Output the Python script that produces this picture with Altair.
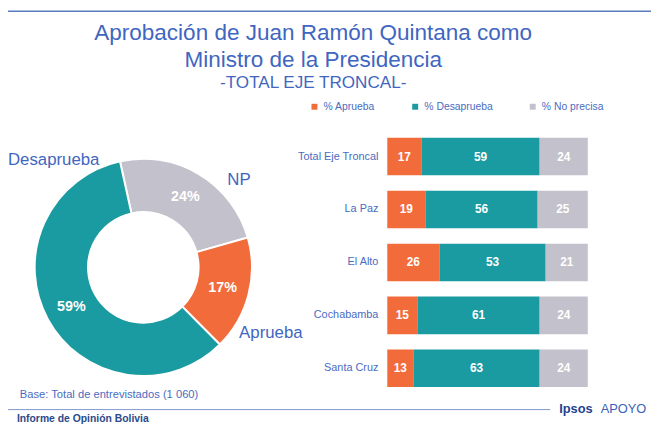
import altair as alt
import pandas as pd

# ---------------- data ----------------
series = ["% Aprueba", "% Desaprueba", "% No precisa"]
colors = ["#f26b3a", "#1a9ba1", "#c3c1cb"]

regions = ["Total Eje Troncal", "La Paz", "El Alto", "Cochabamba", "Santa Cruz"]
aprueba = [17, 19, 26, 15, 13]
desaprueba = [59, 56, 53, 61, 63]
noprecisa = [24, 25, 21, 24, 24]

pie_series = ["% No precisa", "% Aprueba", "% Desaprueba"]
pie_values = [24, 17, 59]
pie_names = ["NP", "Aprueba", "Desaprueba"]

title_lines = ["Aprobación de Juan Ramón Quintana como", "Ministro de la Presidencia", "-TOTAL EJE TRONCAL-"]
base_note = "Base: Total de entrevistados (1 060)"
footer_left = "Informe de Opinión Bolivia"

FONT = "Liberation Sans"
BLUE = "#3f66c0"
LBLUE = "#4a6cc0"

# ---------------- tables ----------------
rows = []
for i, r in enumerate(regions):
    for k, (s, vals) in enumerate(zip(series, [aprueba, desaprueba, noprecisa])):
        rows.append({"region": r, "serie": s, "val": vals[i], "ord": k})
bars_df = pd.DataFrame(rows)
pie_df = pd.DataFrame({"serie": pie_series, "val": pie_values, "ord": [0, 1, 2],
                       "lbl": [f"{v}%" for v in pie_values]})
reg_df = pd.DataFrame({"region": regions})
one = alt.Data(values=[{}])

color = alt.Color("serie:N", scale=alt.Scale(domain=series, range=colors),
                  legend=alt.Legend(title=None, orient="none", legendX=305, legendY=92,
                                    direction="horizontal", symbolType="square",
                                    symbolSize=36, symbolStrokeWidth=0, labelOffset=4,
                                    columnPadding=35, labelFont=FONT, labelFontSize=10.5,
                                    labelColor=LBLUE, padding=0))

xs = alt.Scale(domain=[0, 100], range=[384, 587], nice=False, zero=False)
ys = alt.Scale(domain=regions, range=[121, 389], paddingInner=0.29, paddingOuter=0.145)

base_bar = alt.Chart(bars_df).transform_window(
    cum="sum(val)", sort=[{"field": "ord"}], groupby=["region"], frame=[None, 0]
).transform_calculate(
    start="datum.cum - datum.val", mid="datum.cum - datum.val / 2"
)

bars = base_bar.mark_bar().encode(
    x=alt.X("start:Q", scale=xs, axis=None),
    x2="cum:Q",
    y=alt.Y("region:N", scale=ys, axis=None),
    color=color,
)
bar_text = base_bar.mark_text(font=FONT, fontSize=12, fontWeight="bold", color="white").encode(
    x=alt.X("mid:Q", scale=xs, axis=None),
    y=alt.Y("region:N", scale=ys, axis=None),
    text="val:Q",
)
reg_text = alt.Chart(reg_df).mark_text(font=FONT, fontSize=11, color=LBLUE, align="right").encode(
    x=alt.value(375),
    y=alt.Y("region:N", scale=ys, axis=None),
    text="region:N",
)

ts = alt.Scale(range=[-0.2164, 6.0668])
arcs = alt.Chart(pie_df).mark_arc(innerRadius=56, outerRadius=110, stroke="white", strokeWidth=2).encode(
    theta=alt.Theta("val:Q", stack=True, scale=ts),
    order=alt.Order("ord:Q"),
    color=color,
    x=alt.value(137), y=alt.value(260),
)
arc_text = alt.Chart(pie_df).mark_text(radius=83, font=FONT, fontSize=14.5, fontWeight="bold", color="white").encode(
    theta=alt.Theta("val:Q", stack=True, scale=ts),
    order=alt.Order("ord:Q"),
    text="lbl:N",
    x=alt.value(137), y=alt.value(260),
)

def txt(s, x, y, size, color=BLUE, weight="normal", align="left", baseline="middle"):
    return alt.Chart(one).mark_text(text=s, font=FONT, fontSize=size, color=color,
                                    fontWeight=weight, align=align, baseline=baseline).encode(
        x=alt.value(x), y=alt.value(y))

t1 = txt(title_lines[0], 309, 30, 22.8, align="center", baseline="alphabetic")
t2 = txt(title_lines[1], 309, 57, 22.8, align="center", baseline="alphabetic")
t3 = txt(title_lines[2], 309, 78.7, 17.3, align="center", baseline="alphabetic")

n_des = txt(pie_names[2], 0, 151, 17)
n_np = txt(pie_names[0], 222, 172, 17)
n_ap = txt(pie_names[1], 234, 327, 17)

note = txt(base_note, 12, 389, 11.3, color=LBLUE)
inf = txt(footer_left, 9, 414, 10.5, color="#2b4a8b", weight="bold")
ipsos = txt("Ipsos", 558, 403, 13, color="#1f3f8f", weight="bold")
apoyo = txt("APOYO", 600, 403, 13, color="#3a63b8")

top_line = alt.Chart(one).mark_rule(color="#5b7bbf", strokeWidth=1.5).encode(
    x=alt.value(0), x2=alt.value(651), y=alt.value(0.75))
foot_line = alt.Chart(one).mark_rule(color="#7d97cc", strokeWidth=1).encode(
    x=alt.value(0), x2=alt.value(549), y=alt.value(404))

chart = alt.layer(
    top_line, foot_line, bars, bar_text, reg_text, arcs, arc_text,
    t1, t2, t3, n_des, n_np, n_ap, note, inf, ipsos, apoyo,
).properties(
    width=651, height=418, padding=0, background="white",
    autosize=alt.AutoSizeParams(type="none"),
).configure_view(stroke=None)

chart.save("out.html", embed_options={"renderer": "svg", "actions": False})
